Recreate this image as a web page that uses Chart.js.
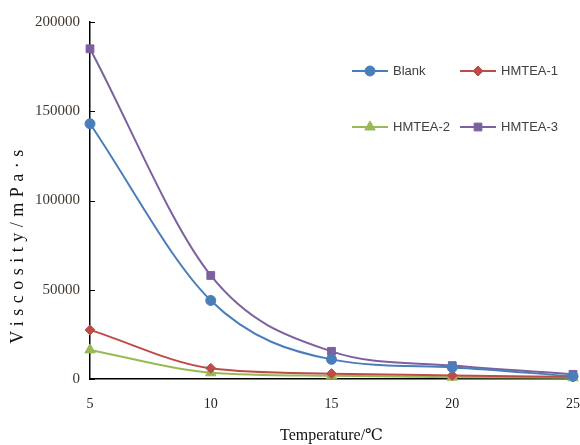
<!DOCTYPE html>
<html>
<head>
<meta charset="utf-8">
<script src="https://cdn.jsdelivr.net/npm/chart.js@4"></script>
<style>
  html, body { margin: 0; padding: 0; background: #fff; }
  #wrap { width: 580px; height: 445px; }
</style>
</head>
<body>
<div id="wrap"><canvas id="viscChart" width="580" height="445"></canvas></div>
<script>
// Viscosity vs temperature
const temps = [5, 10, 15, 20, 25];
const blank = [143000, 44000, 11000, 6500, 1500];
const hmtea1 = [27500, 6000, 3000, 2000, 1200];
const hmtea2 = [16300, 3500, 1800, 1000, 700];
const hmtea3 = [185000, 58000, 15500, 7500, 2600];
const yTicks = [0, 50000, 100000, 150000, 200000];

const seriesNames = ['Blank', 'HMTEA-1', 'HMTEA-2', 'HMTEA-3'];
const seriesColors = ['#4a7ebb', '#be4b48', '#98b954', '#7d60a0'];
const seriesMarkers = ['circle', 'rectRot', 'triangle', 'rect'];
const seriesSizes = [5, 5, 6, 5.5];
const seriesValues = [blank, hmtea1, hmtea2, hmtea3];

const serif = '"Liberation Serif", "DejaVu Serif", serif';
const sans = '"Liberation Sans", Arial, sans-serif';

// legend drawn inside the plot area, two columns
const insideLegend = {
    id: 'insideLegend',
    afterDraw(chart) {
        const ctx = chart.ctx;
        const spots = [[352, 71], [460, 71], [352, 127], [460, 127]];
        ctx.save();
        chart.data.datasets.forEach((ds, i) => {
            const [x, y] = spots[i];
            ctx.strokeStyle = ds.borderColor;
            ctx.fillStyle = ds.borderColor;
            ctx.lineWidth = 2;
            ctx.beginPath();
            ctx.moveTo(x, y);
            ctx.lineTo(x + 36, y);
            ctx.stroke();
            ctx.lineWidth = 1;
            Chart.helpers.drawPoint(ctx, {
                pointStyle: ds.pointStyle,
                radius: ds.pointRadius,
                borderWidth: 1
            }, x + 18, y);
            ctx.fillStyle = '#404040';
            ctx.font = '13px ' + sans;
            ctx.textBaseline = 'middle';
            ctx.textAlign = 'left';
            ctx.fillText(ds.label, x + 41, y);
        });
        ctx.restore();
    }
};

// short inward tick marks on the y axis and the spaced-out y title
const axisExtras = {
    id: 'axisExtras',
    afterDraw(chart) {
        const ctx = chart.ctx;
        const y = chart.scales.y;
        ctx.save();
        ctx.strokeStyle = '#000';
        ctx.lineWidth = 1;
        yTicks.forEach(v => {
            const py = Math.round(y.getPixelForValue(v)) + 0.5;
            ctx.beginPath();
            ctx.moveTo(y.right, py);
            ctx.lineTo(y.right + 5, py);
            ctx.stroke();
        });
        ctx.translate(18, 244);
        ctx.rotate(-Math.PI / 2);
        ctx.font = '18px ' + serif;
        ctx.letterSpacing = '5.5px';
        ctx.fillStyle = '#111';
        ctx.textAlign = 'center';
        ctx.textBaseline = 'middle';
        ctx.fillText('Viscosity/mPa·s', 0, 0);
        ctx.restore();
    }
};

new Chart(document.getElementById('viscChart'), {
    type: 'line',
    data: {
        datasets: seriesNames.map((name, i) => ({
            label: name,
            data: temps.map((t, j) => ({ x: t, y: seriesValues[i][j] })),
            borderColor: seriesColors[i],
            backgroundColor: seriesColors[i],
            pointStyle: seriesMarkers[i],
            pointRadius: seriesSizes[i],
            pointBorderWidth: 1,
            borderWidth: 2,
            cubicInterpolationMode: 'monotone',
            clip: false,
            fill: false
        }))
    },
    options: {
        responsive: false,
        animation: false,
        layout: { autoPadding: false, padding: { top: 22, right: 7, left: 0, bottom: 0 } },
        plugins: {
            legend: { display: false },
            tooltip: { enabled: false }
        },
        scales: {
            x: {
                type: 'linear',
                min: 5,
                max: 25,
                ticks: {
                    stepSize: 5,
                    padding: 17,
                    color: '#222',
                    font: { family: serif, size: 14 }
                },
                grid: { display: false, drawTicks: false },
                border: { color: '#000', width: 1.5 },
                title: {
                    display: true,
                    text: 'Temperature/℃',
                    color: '#111',
                    font: { family: serif, size: 16 },
                    padding: { top: 8, bottom: 0 }
                },
                afterFit(scale) {
                    scale.height = 66;
                    scale.paddingLeft = 0;
                    scale.paddingRight = 0;
                }
            },
            y: {
                min: 0,
                max: 200000,
                afterBuildTicks(scale) { scale.ticks = yTicks.map(v => ({ value: v })); },
                ticks: {
                    padding: 10,
                    color: '#403830',
                    font: { family: serif, size: 15 },
                    callback: v => String(v)
                },
                grid: { display: false, drawTicks: false },
                border: { color: '#000', width: 1.5 },
                afterFit(scale) {
                    scale.width = 90;
                    scale.paddingTop = 0;
                    scale.paddingBottom = 0;
                }
            }
        }
    },
    plugins: [insideLegend, axisExtras]
});
</script>
</body>
</html>
